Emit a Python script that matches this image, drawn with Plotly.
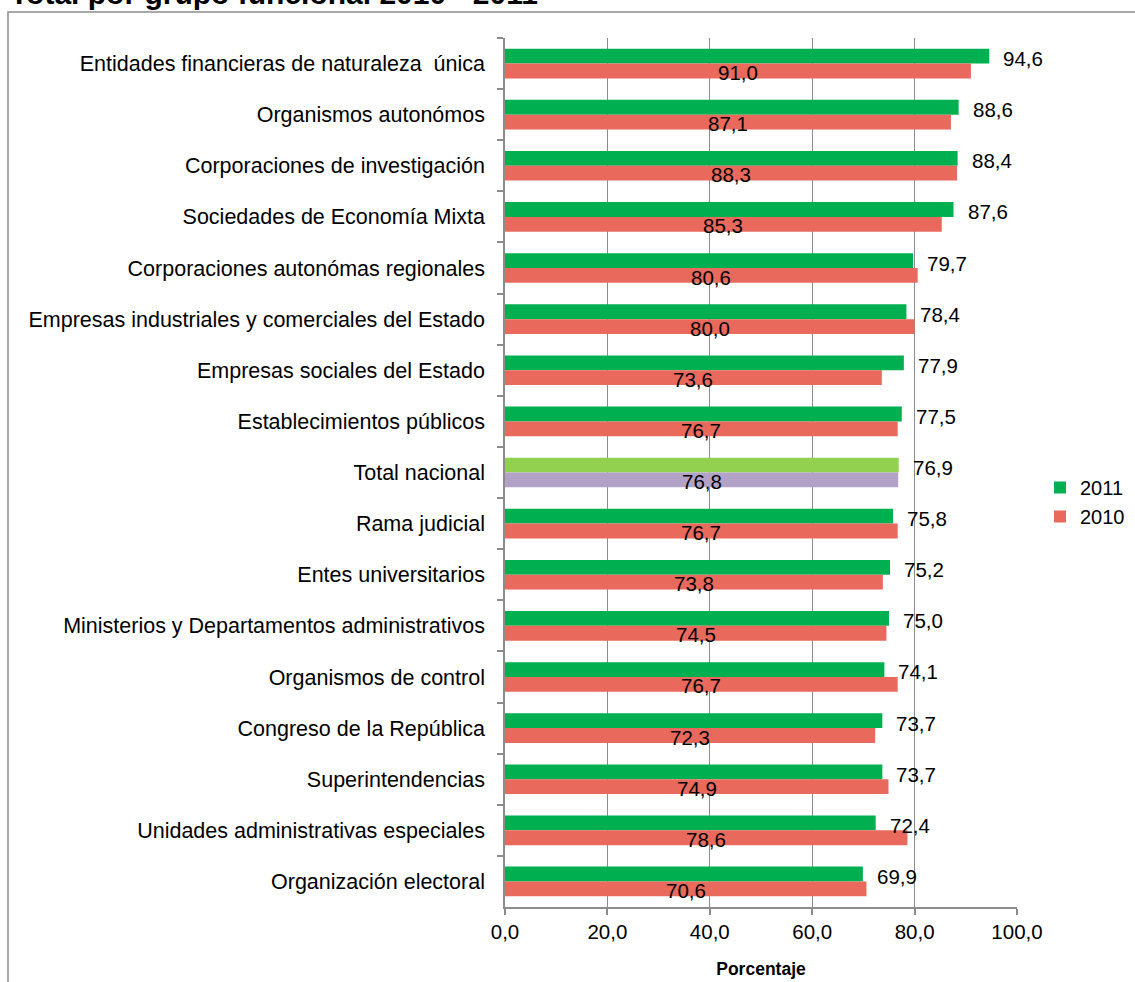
import plotly.graph_objects as go

categories = [
    "Entidades financieras de naturaleza\u00a0 única",
    "Organismos autonómos",
    "Corporaciones de investigación",
    "Sociedades de Economía Mixta",
    "Corporaciones autonómas regionales",
    "Empresas industriales y comerciales del Estado",
    "Empresas sociales del Estado",
    "Establecimientos públicos",
    "Total nacional",
    "Rama judicial",
    "Entes universitarios",
    "Ministerios y Departamentos administrativos",
    "Organismos de control",
    "Congreso de la República",
    "Superintendencias",
    "Unidades administrativas especiales",
    "Organización electoral",
]
values_2011 = [94.6, 88.6, 88.4, 87.6, 79.7, 78.4, 77.9, 77.5, 76.9, 75.8, 75.2, 75.0, 74.1, 73.7, 73.7, 72.4, 69.9]
values_2010 = [91.0, 87.1, 88.3, 85.3, 80.6, 80.0, 73.6, 76.7, 76.8, 76.7, 73.8, 74.5, 76.7, 72.3, 74.9, 78.6, 70.6]
x_ticks = [0, 20, 40, 60, 80, 100]

GREEN = "#00B050"
RED = "#E9695D"
GREEN_TOTAL = "#92D050"
RED_TOTAL = "#B3A2C7"
GRAY = "#8C8C8C"
FONT = "Liberation Sans, Arial, sans-serif"

def fmt(v):
    return f"{v:.1f}".replace(".", ",")

colors_2011 = [GREEN_TOTAL if c == "Total nacional" else GREEN for c in categories]
colors_2010 = [RED_TOTAL if c == "Total nacional" else RED for c in categories]

# plot area pixel geometry
W, H = 1135, 982
L, R, T, B = 505, 1017, 38, 907

fig = go.Figure()
fig.add_trace(go.Bar(y=categories, x=values_2011, orientation="h", name="2011",
                     marker=dict(color=colors_2011, line=dict(width=0)),
                     legendgroup="a"))
fig.add_trace(go.Bar(y=categories, x=values_2010, orientation="h", name="2010",
                     marker=dict(color=colors_2010, line=dict(width=0)),
                     legendgroup="b"))

annotations = []
for c, v in zip(categories, values_2011):
    annotations.append(dict(x=v, y=c, xref="x", yref="y", text=fmt(v), showarrow=False,
                            xanchor="left", yanchor="middle", xshift=12, yshift=5,
                            font=dict(size=20.5, color="#000", family=FONT)))
for c, v in zip(categories, values_2010):
    annotations.append(dict(x=v / 2, y=c, xref="x", yref="y", text=fmt(v), showarrow=False,
                            xanchor="center", yanchor="middle", yshift=-9,
                            font=dict(size=20.5, color="#000", family=FONT)))

def px(p):
    return (p - L) / (R - L)

def py(p):
    return (B - p) / (B - T)

annotations.append(dict(x=px(8), y=py(-6), xref="paper", yref="paper",
                        text="<b>Total por grupo funcional 2010 - 2011</b>", showarrow=False,
                        xanchor="left", yanchor="middle",
                        font=dict(size=30, color="#000", family=FONT)))

shapes = [dict(type="path", xref="paper", yref="paper",
               path=f"M {px(8)},{py(1000)} L {px(8)},{py(12)} L {px(1140)},{py(12)}",
               line=dict(color=GRAY, width=1.5))]

fig.update_layout(
    width=W, height=H,
    margin=dict(l=L, r=W - R, t=T, b=H - B, autoexpand=False),
    paper_bgcolor="white", plot_bgcolor="white",
    barmode="group", bargap=0.42, bargroupgap=0,
    separators=",.",
    font=dict(family=FONT, size=20, color="#000"),
    showlegend=True,
    legend=dict(x=px(1040), y=py(502), xanchor="left", yanchor="middle",
                font=dict(size=20), traceorder="normal", tracegroupgap=21,
                bgcolor="rgba(0,0,0,0)", itemclick=False),
    annotations=annotations,
    shapes=shapes,
    xaxis=dict(range=[0, 100], tickvals=x_ticks, tickformat=".1f",
               showgrid=True, gridcolor=GRAY, gridwidth=1,
               showline=True, linecolor=GRAY, linewidth=1.5,
               ticks="outside", ticklen=6, tickcolor=GRAY, tickwidth=1.5,
               zeroline=False,
               tickfont=dict(size=20.5),
               title=dict(text="<b>Porcentaje</b>", font=dict(size=17.5), standoff=20)),
    yaxis=dict(autorange="reversed", showgrid=False,
               showline=True, linecolor=GRAY, linewidth=1.5,
               ticks="outside", ticklen=6, tickcolor=GRAY, tickwidth=1.5,
               tickson="boundaries", ticklabelstandoff=14,
               tickfont=dict(size=21.5)),
)

fig.write_html("out.html", config={"displayModeBar": False},
               post_script="document.body.style.margin='0';document.body.style.overflow='hidden';")
